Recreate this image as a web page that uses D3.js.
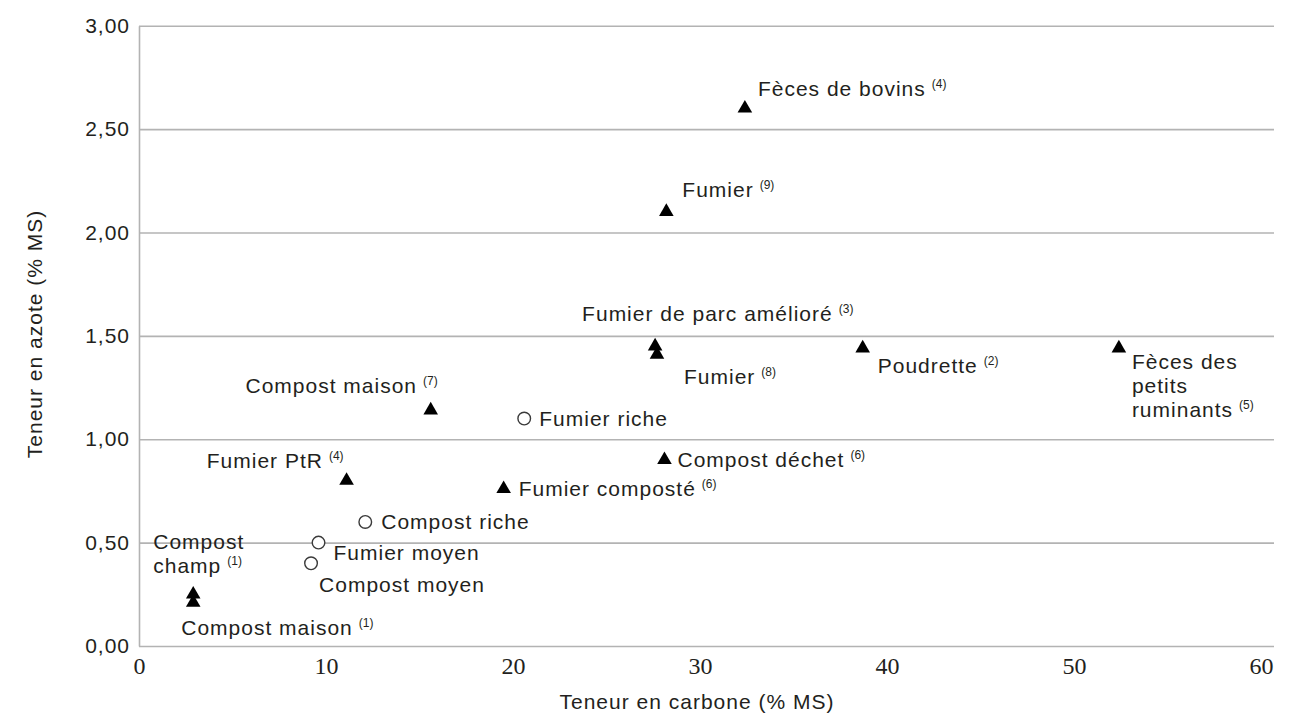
<!DOCTYPE html>
<html>
<head>
<meta charset="utf-8">
<script src="https://cdn.jsdelivr.net/npm/d3@7"></script>
<style>
  body { margin: 0; background: #fff; }
  text { font-family: "Liberation Sans", Arial, sans-serif; fill: #231f20; }
  .axis .domain, .axis line { stroke: #b3b3b3; stroke-width: 1.6; }
  .y.axis text { font-size: 21px; letter-spacing: 1px; }
  .lbl { font-size: 21px; letter-spacing: 1px; }
  .sup { font-size: 12px; letter-spacing: 0; }
</style>
</head>
<body>
<div id="chart"></div>
<script>
// produits organiques : nom (lignes séparées par |), renvoi, C et N en % MS
const names = [
  'Fèces de bovins', 'Fumier', 'Fumier de parc amélioré', 'Fumier', 'Poudrette',
  'Fèces des|petits|ruminants', 'Compost maison', 'Fumier riche', 'Compost déchet',
  'Fumier composté', 'Fumier PtR', 'Compost riche', 'Fumier moyen', 'Compost moyen',
  'Compost|champ', 'Compost maison'
];
const refs = ['4', '9', '3', '8', '2', '5', '7', '', '6', '6', '4', '', '', '', '1', '1'];
const carbon = [32.4, 28.2, 27.6, 27.7, 38.7, 52.4, 15.6, 20.6, 28.1, 19.5, 11.1, 12.1, 9.6, 9.2, 2.9, 2.9];
const azote = [2.60, 2.10, 1.45, 1.41, 1.44, 1.44, 1.14, 1.10, 0.90, 0.76, 0.80, 0.60, 0.50, 0.40, 0.25, 0.21];
const kinds = ['tri', 'tri', 'tri', 'tri', 'tri', 'tri', 'tri', 'rond', 'tri', 'tri', 'tri', 'rond', 'rond', 'rond', 'tri', 'tri'];

const xTicks = [0, 10, 20, 30, 40, 50, 60];
const yTicks = [0, 0.5, 1, 1.5, 2, 2.5, 3];
const xTitle = 'Teneur en carbone (% MS)';
const yTitle = 'Teneur en azote (% MS)';

// placement des étiquettes (décalage par rapport au point)
const labelPos = [
  { dx: 13, dy: -20 }, { dx: 16, dy: -22 }, { dx: -73, dy: -33 }, { dx: 27, dy: 22 },
  { dx: 15, dy: 17 }, { dx: 13, dy: 13 }, { dx: 7, dy: -25, anchor: 'end' }, { dx: 15, dy: 0 },
  { dx: 13, dy: 0 }, { dx: 15, dy: 0 }, { dx: -3, dy: -20, anchor: 'end' }, { dx: 16, dy: 0 },
  { dx: 15, dy: 10 }, { dx: 8, dy: 21 }, { dx: -40, dy: -53 }, { dx: -12, dy: 25 }
];

const W = 1296, H = 714;
const margin = { top: 25.7, right: 22, bottom: 68, left: 139 };
const width = 1122;
const height = H - margin.top - margin.bottom;
const overhang = 13; // la grille dépasse un peu 60

const points = names.map(function(n, i) {
  return { lines: n.split('|'), ref: refs[i], c: carbon[i], n: azote[i], kind: kinds[i], pos: labelPos[i] };
});

const fr = d3.formatLocale({ decimal: ',', thousands: ' ', grouping: [3], currency: ['', ' €'] });

const svg = d3.select('#chart')
  .append('svg')
  .attr('width', W)
  .attr('height', H);
const g = svg.append('g')
  .attr('transform', 'translate(' + margin.left + ',' + margin.top + ')');

const x = d3.scaleLinear().domain([0, 60]).range([0, width]);
const y = d3.scaleLinear().domain([0, 3]).range([height, 0]);

// axe Y + grille
g.append('g').attr('class', 'y axis')
  .call(d3.axisLeft(y).tickValues(yTicks).tickSize(-(width + overhang)).tickSizeOuter(0)
    .tickPadding(9).tickFormat(fr.format('.2f')));

// axe X (pas de traits), chiffres en romain
g.append('g').attr('class', 'x axis')
  .attr('transform', 'translate(0,' + height + ')')
  .call(d3.axisBottom(x).tickValues(xTicks).tickSize(0).tickPadding(11))
  .call(function(a) { a.select('.domain').remove(); })
  .selectAll('text')
  .style('font-family', '"Liberation Serif", "DejaVu Serif", serif')
  .style('font-size', '24px');

// titres
svg.append('text')
  .attr('x', margin.left + 558)
  .attr('y', 702)
  .attr('dy', '0.35em')
  .attr('text-anchor', 'middle')
  .style('font-size', '21px')
  .style('letter-spacing', '1px')
  .text(xTitle);
svg.append('text')
  .attr('transform', 'translate(35,334) rotate(-90)')
  .attr('dy', '0.35em')
  .attr('text-anchor', 'middle')
  .style('font-size', '21px')
  .style('letter-spacing', '1px')
  .text(yTitle);

// marqueurs
const tri = d3.symbol().type(d3.symbolTriangle).size(92);
const mark = g.selectAll('.pt')
  .data(points)
  .enter().append('g')
  .attr('class', 'pt')
  .attr('transform', function(d) { return 'translate(' + x(d.c) + ',' + y(d.n) + ')'; });

mark.filter(function(d) { return d.kind === 'tri'; })
  .append('path')
  .attr('d', tri)
  .style('fill', '#000');

mark.filter(function(d) { return d.kind === 'rond'; })
  .append('circle')
  .attr('r', 6.3)
  .style('fill', '#fff')
  .style('stroke', '#3a3a3a')
  .style('stroke-width', 1.4);

// étiquettes
const label = mark.append('text')
  .attr('class', 'lbl')
  .attr('text-anchor', function(d) { return d.pos.anchor || 'start'; })
  .attr('transform', function(d) { return 'translate(' + d.pos.dx + ',' + d.pos.dy + ')'; });

label.each(function(d) {
  const t = d3.select(this);
  d.lines.forEach(function(line, i) {
    t.append('tspan')
      .attr('x', 0)
      .attr('y', i * 24)
      .attr('dy', '0.35em')
      .text(line);
  });
  if (d.ref) {
    t.append('tspan')
      .attr('class', 'sup')
      .attr('dx', 6)
      .attr('dy', -8)
      .text('(' + d.ref + ')');
  }
});
</script>
</body>
</html>
